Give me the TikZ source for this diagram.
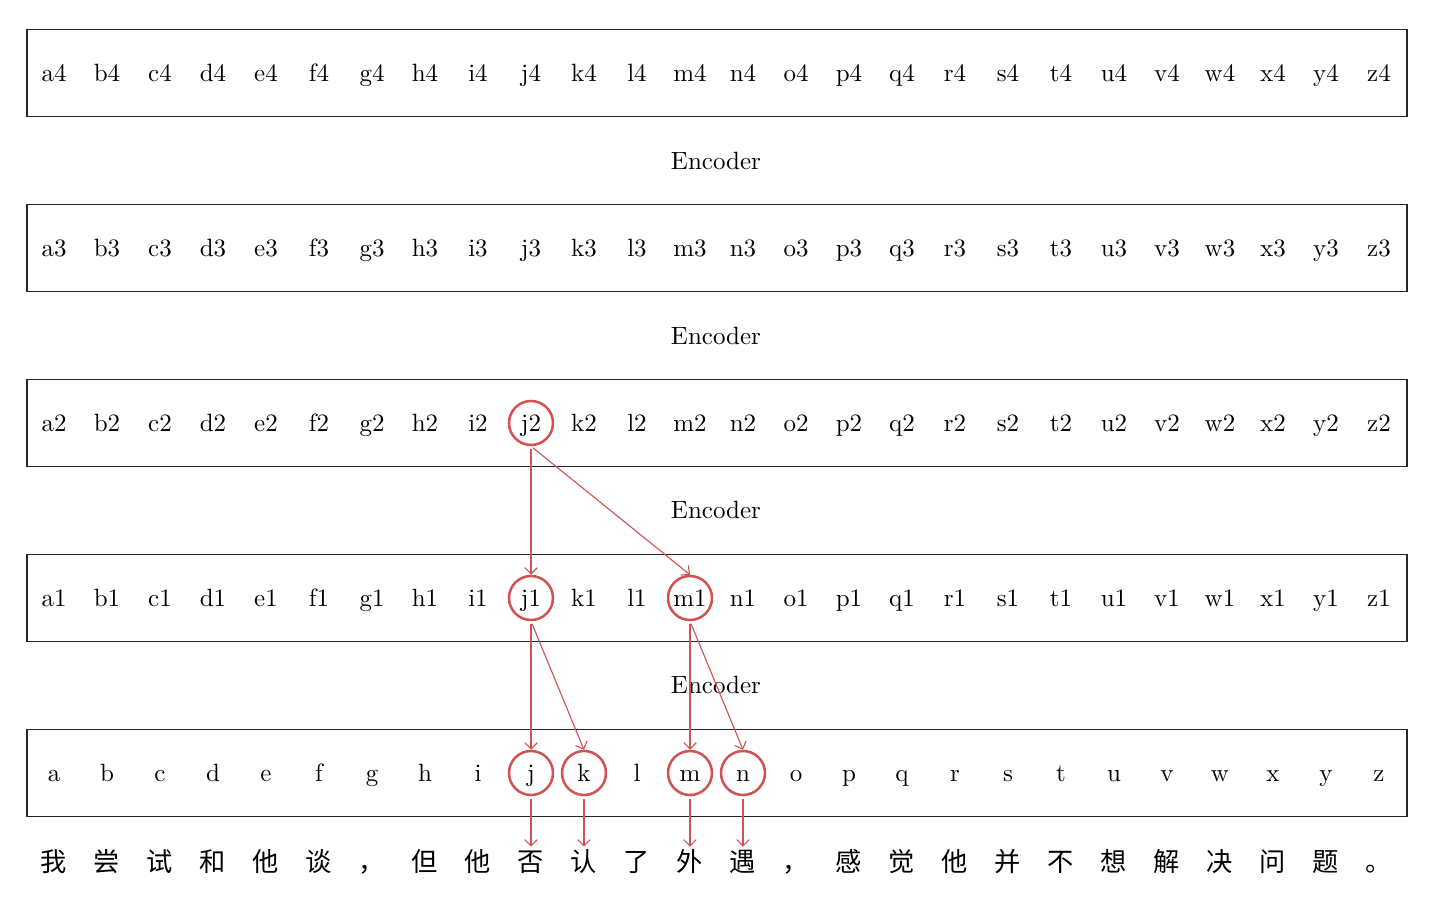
\documentclass[tikz,border=0pt]{standalone}
\usepackage{fontspec}
\newfontfamily\cjkfont{Noto Sans CJK SC}
\usepackage{tikz}
\usetikzlibrary{arrows.meta}
\def \encoderStr {Encoder}
\def \letterList {a,b,c,d,e,f,g,h,i,j,k,l,m,n,o,p,q,r,s,t,u,v,w,x,y,z}
\def \sentenceList {我,尝,试,和,他,谈,，,但,他,否,认,了,外,遇,，,感,觉,他,并,不,想,解,决,问,题,。}
\def \colStep {53}
\def \firstCol {54}

\begin{document}
\begin{tikzpicture}[x=0.4pt,y=-0.4pt,
  rowbox/.style={draw=black!85, line width=0.6pt, minimum width=552pt, minimum height=34.8pt, inner sep=0pt},
  mytext/.style={font=\normalsize, inner sep=1pt, text height=1.8ex, text depth=0.2ex},
  cjktext/.style={font=\cjkfont\fontsize{10.5}{12}\selectfont, inner sep=1pt, text height=2ex, text depth=0.1ex},
  hl/.style={circle, draw=markred, line width=1pt, minimum size=17.6pt, inner sep=0pt},
  hlarrow/.style={draw=markred, line width=0.45pt, -{Straight Barb[length=2.5pt,width=5pt]}, shorten <=1pt}]

\definecolor{markred}{RGB}{208,82,82}

\useasboundingbox (0,0) rectangle (1440,905);

% the five rows of tokens
\foreach \row/\suffix/\ypos in {4/4/73, 3/3/248, 2/2/423, 1/1/598, 0//773} {
  \node[rowbox] (box\row) at (717,\ypos) {};
  \foreach \letter [count=\i from 0] in \letterList {
    \node[mytext] (r\row-\letter) at ({\firstCol+\colStep*\i},\ypos) {\letter\suffix};
  }
}

% encoder labels between the rows
\foreach \row/\ypos in {4/161, 3/336, 2/510, 1/685} {
  \node[mytext] (enc\row) at (716,\ypos) {\encoderStr};
}

% the sentence
\foreach \ch [count=\i from 0] in \sentenceList {
  \node[cjktext] (s-\i) at ({\firstCol+\colStep*\i},861) {\ch};
}

% highlighted tokens
\node[hl] (c2-j) at (r2-j) {};
\node[hl] (c1-j) at (r1-j) {};
\node[hl] (c1-m) at (r1-m) {};
\node[hl] (c0-j) at (r0-j) {};
\node[hl] (c0-k) at (r0-k) {};
\node[hl] (c0-m) at (r0-m) {};
\node[hl] (c0-n) at (r0-n) {};

\draw[hlarrow] (c2-j.south) -- (c1-j.north);
\draw[hlarrow] (c2-j.south) -- (c1-m.north);
\draw[hlarrow] (c1-j.south) -- (c0-j.north);
\draw[hlarrow] (c1-j.south) -- (c0-k.north);
\draw[hlarrow] (c1-m.south) -- (c0-m.north);
\draw[hlarrow] (c1-m.south) -- (c0-n.north);

\draw[hlarrow] (c0-j) -- (s-9);
\draw[hlarrow] (c0-k) -- (s-10);
\draw[hlarrow] (c0-m) -- (s-12);
\draw[hlarrow] (c0-n) -- (s-13);

\end{tikzpicture}
\end{document}
